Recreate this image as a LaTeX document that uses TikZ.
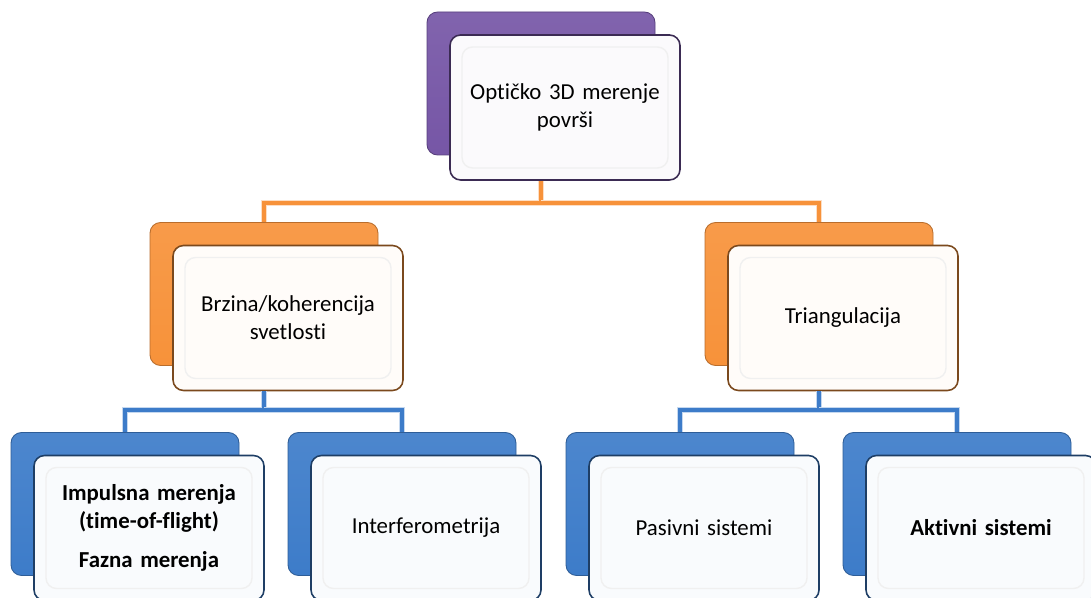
\documentclass[tikz,border=0pt]{standalone}
\usepackage{fontspec}
\setmainfont{Carlito}[Ligatures={NoCommon}]
\usetikzlibrary{positioning}
\definecolor{purp}{HTML}{7656A6}
\definecolor{org}{HTML}{F7923A}
\definecolor{blu}{HTML}{3D7CC9}
\tikzset{
  backbox/.style={rectangle,rounded corners=6pt,minimum width=45.6mm,minimum height=28.6mm,
    top color=#1!92!white,bottom color=#1,draw=#1!75!black,line width=0.5pt},
  frontbox/.style={rectangle,rounded corners=6pt,minimum width=46mm,minimum height=29mm,
    fill=#1!3,draw=#1!50!black,line width=0.9pt,align=center,text width=42mm,
    font=\fontsize{13}{16}\selectfont,
    path picture={\draw[black!6,line width=0.8pt]
      ([shift={(2.4mm,-2.4mm)}]path picture bounding box.north west) rectangle
      ([shift={(-2.4mm,2.4mm)}]path picture bounding box.south east);}},
  link/.style={draw=#1,line width=2.2pt,preaction={draw=#1!30,line width=3.6pt}}
}

\begin{document}
\begin{tikzpicture}
\useasboundingbox (0,0) rectangle (21.82,-11.96);
% back boxes
\node[backbox=purp] (topb) at (10.82,-1.67) {};
\node[backbox=org] (brzb) at (5.28,-5.88) {};
\node[backbox=org] (trib) at (16.38,-5.88) {};
\node[backbox=blu] (impb) at (2.5,-10.08) {};
\node[backbox=blu] (intb) at (8.04,-10.08) {};
\node[backbox=blu] (pasb) at (13.6,-10.08) {};
\node[backbox=blu] (aktb) at (19.14,-10.08) {};
% front boxes
\node[frontbox=purp] (topf) at ([shift={(0.48,-0.48)}]topb.center) {Optičko 3D merenje\\površi};
\node[frontbox=org] (brzf) at ([shift={(0.48,-0.48)}]brzb.center) {Brzina/koherencija\\svetlosti};
\node[frontbox=org] (trif) at ([shift={(0.48,-0.48)}]trib.center) {Triangulacija};
\node[frontbox=blu] (impf) at ([shift={(0.48,-0.48)}]impb.center)
  {\textbf{Impulsna merenja}\\\textbf{(time-of-flight)}\\[6pt]\textbf{Fazna merenja}};
\node[frontbox=blu] (intf) at ([shift={(0.48,-0.48)}]intb.center) {Interferometrija};
\node[frontbox=blu] (pasf) at ([shift={(0.48,-0.48)}]pasb.center) {Pasivni sistemi};
\node[frontbox=blu] (aktf) at ([shift={(0.48,-0.48)}]aktb.center) {\textbf{Aktivni sistemi}};
% connectors
\coordinate (busO) at (0,-4.06);
\coordinate (busL) at (0,-8.2);
\draw[link=org] (topf.south -| topb) -- (busO -| topb) -| (brzb.north);
\draw[link=org] (busO -| topb) -| (trib.north);
\draw[link=blu] (brzf.south -| brzb) -- (busL -| brzb) -| (impb.north);
\draw[link=blu] (busL -| brzb) -| (intb.north);
\draw[link=blu] (trif.south -| trib) -- (busL -| trib) -| (pasb.north);
\draw[link=blu] (busL -| trib) -| (aktb.north);
\end{tikzpicture}
\end{document}
